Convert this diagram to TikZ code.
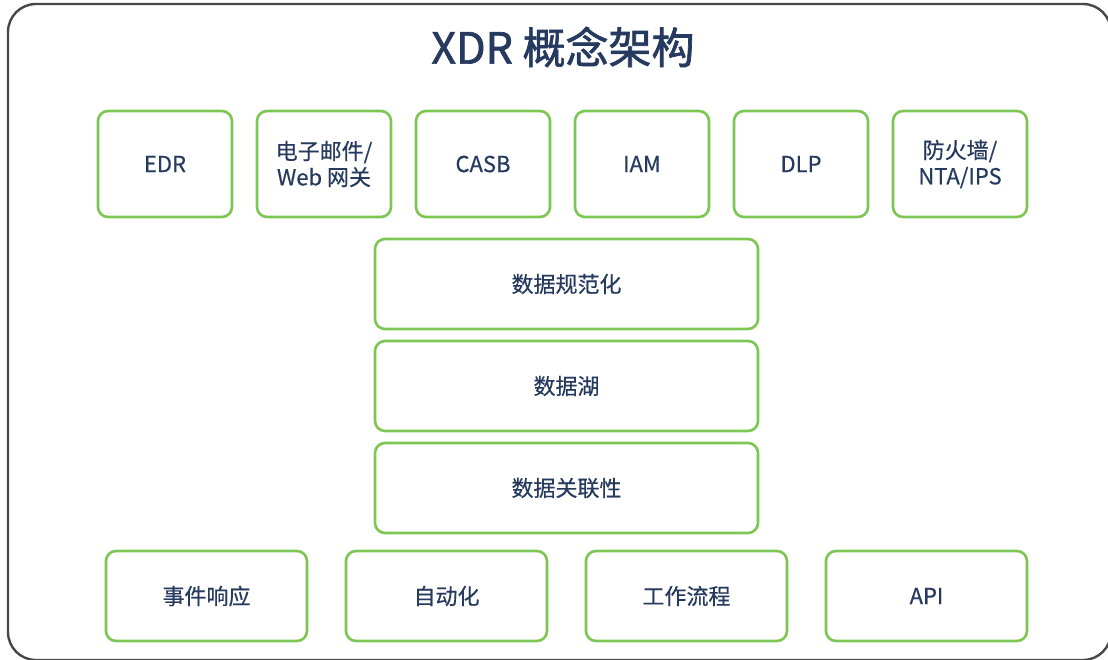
\documentclass[tikz,border=0pt]{standalone}
\usepackage{fontspec}
\setmainfont{Noto Sans CJK SC}[FakeBold=0.4]
\newfontfamily\titlefont{Noto Sans CJK SC}[FakeBold=1.6]
\definecolor{boxgreen}{HTML}{7CC653}
\definecolor{txt}{HTML}{253A5E}
\definecolor{frame}{HTML}{474747}
\tikzset{
  box/.style={draw=boxgreen, line width=2.6pt, rounded corners=10pt, fill=white, text=txt, font=\fontsize{22}{26}\selectfont, align=center, inner sep=0pt},
  topbox/.style={box, minimum width=134pt, minimum height=106pt},
  midbox/.style={box, minimum width=383pt, minimum height=90pt},
  botbox/.style={box, minimum width=201pt, minimum height=90pt}
}
\begin{document}
\begin{tikzpicture}[x=1pt,y=-1pt]
\useasboundingbox (0,0) rectangle (1108,659);
\begin{scope}
\clip (0,0) rectangle (1108,659);
\draw[frame, line width=2.4pt, rounded corners=28pt] (8,4) rectangle (1111,660);
\end{scope}
\node[text=txt, font=\titlefont\fontsize{43}{50}\selectfont] (title) at (563,47) {XDR 概念架构};
\node[topbox] (edr) at (165,164) {EDR};
\node[topbox] (mail) at (324,164) {电子邮件/\\Web 网关};
\node[topbox] (casb) at (483,164) {CASB};
\node[topbox] (iam) at (642,164) {IAM};
\node[topbox] (dlp) at (801,164) {DLP};
\node[topbox] (fw) at (960,164) {防火墙/\\NTA/IPS};
\node[midbox] (norm) at (566.5,284) {数据规范化};
\node[midbox] (lake) at (566.5,386) {数据湖};
\node[midbox] (corr) at (566.5,488) {数据关联性};
\node[botbox] (ir) at (206.5,596) {事件响应};
\node[botbox] (auto) at (446.5,596) {自动化};
\node[botbox] (wf) at (686.5,596) {工作流程};
\node[botbox] (api) at (926.5,596) {API};
\end{tikzpicture}
\end{document}
